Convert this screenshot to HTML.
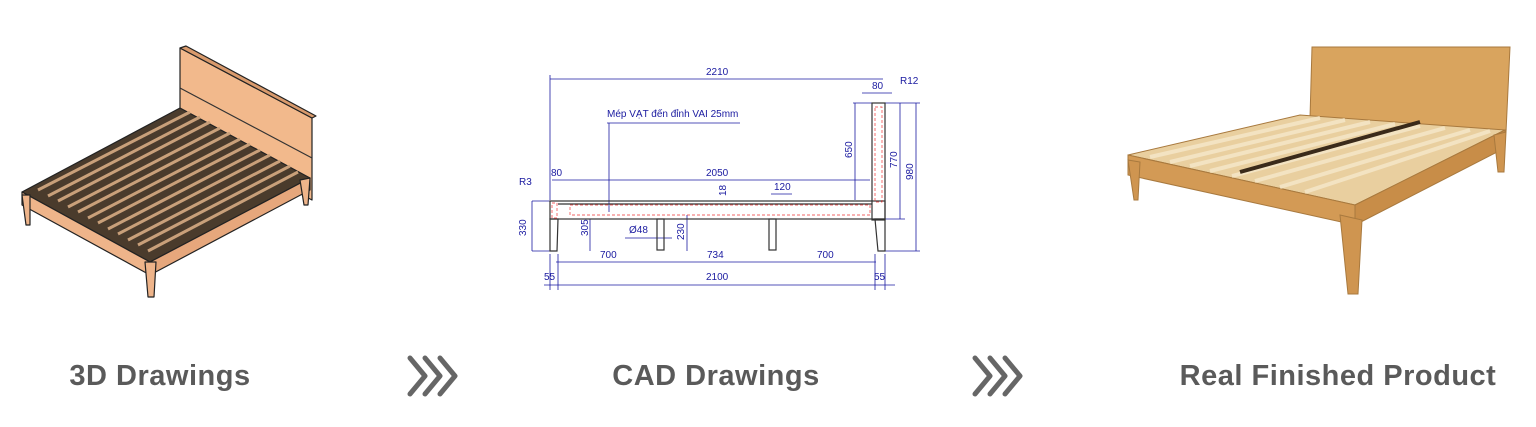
<!DOCTYPE html>
<html><head><meta charset="utf-8"><style>
html,body{margin:0;padding:0;background:#fff;}
body{width:1536px;height:427px;position:relative;overflow:hidden;font-family:"Liberation Sans",sans-serif;}
.lbl{position:absolute;top:360px;font-size:29px;font-weight:bold;color:#5a5a5a;white-space:nowrap;transform:translateX(-50%);letter-spacing:0.5px}
svg{position:absolute;left:0;top:0}
</style></head><body>
<svg width="1536" height="427" viewBox="0 0 1536 427">
<g stroke="#222" stroke-width="1.2" stroke-linejoin="round">
  <polygon points="180,48 312,118 312,200 180,130" fill="#f2b98c"/>
  <polygon points="180,48 186,46 316,116 312,118" fill="#d99a6c"/>
  <line x1="180" y1="88" x2="312" y2="158" stroke="#333"/>
  <polygon points="22,192 180,108 310,178 150,262" fill="#4a3b2c"/>
  <polygon points="22,192 150,262 150,275 22,205" fill="#eeb48a"/>
  <polygon points="150,262 310,178 310,190 150,275" fill="#e6a77c"/>
  <polygon points="22,195 30,195 30,225 26,225" fill="#eeb48a"/>
  <polygon points="145,262 156,262 154,297 148,297" fill="#eeb48a"/>
  <polygon points="300,180 310,178 308,205 304,205" fill="#eeb48a"/>
</g>
<g stroke="#c9a07a" stroke-width="3">
  <line x1="38" y1="190" x2="190" y2="112"/><line x1="48" y1="196" x2="200" y2="117"/>
  <line x1="58" y1="201" x2="210" y2="122"/><line x1="68" y1="207" x2="220" y2="128"/>
  <line x1="78" y1="212" x2="230" y2="133"/><line x1="88" y1="218" x2="240" y2="139"/>
  <line x1="98" y1="223" x2="250" y2="144"/><line x1="108" y1="229" x2="260" y2="150"/>
  <line x1="118" y1="234" x2="270" y2="155"/><line x1="128" y1="240" x2="280" y2="161"/>
  <line x1="138" y1="245" x2="290" y2="166"/><line x1="148" y1="251" x2="298" y2="172"/>
</g>
<g stroke="#1a1aa0" stroke-width="0.8" fill="none">
  <line x1="550" y1="79" x2="883" y2="79"/><line x1="550" y1="75" x2="550" y2="200"/>
  <line x1="552" y1="180" x2="870" y2="180"/><line x1="607" y1="123" x2="740" y2="123"/><line x1="609" y1="123" x2="609" y2="212"/>
  <line x1="532" y1="201" x2="550" y2="201"/><line x1="532" y1="251" x2="550" y2="251"/><line x1="532" y1="201" x2="532" y2="251"/>
  <line x1="590" y1="219" x2="590" y2="251"/>
  <line x1="687" y1="215" x2="687" y2="251"/>
  <line x1="556" y1="262" x2="876" y2="262"/>
  <line x1="544" y1="285" x2="895" y2="285"/>
  <line x1="855" y1="103" x2="855" y2="200"/><line x1="900" y1="103" x2="900" y2="219"/><line x1="916" y1="103" x2="916" y2="251"/>
  <line x1="853" y1="103" x2="920" y2="103"/><line x1="885" y1="219" x2="905" y2="219"/><line x1="885" y1="251" x2="920" y2="251"/>
  <line x1="862" y1="93" x2="892" y2="93"/>
  <line x1="771" y1="194" x2="792" y2="194"/><line x1="625" y1="238" x2="672" y2="238"/>
  <line x1="550" y1="254" x2="550" y2="290"/><line x1="558" y1="254" x2="558" y2="290"/><line x1="875" y1="254" x2="875" y2="290"/><line x1="885" y1="254" x2="885" y2="290"/>
</g>
<g stroke="#333" stroke-width="1.2" fill="none">
  <rect x="872" y="103" width="13" height="117"/>
  <rect x="550" y="201" width="335" height="18"/>
  <line x1="558" y1="204" x2="872" y2="204"/>
  <polygon points="550,219 558,219 557,251 550,251"/>
  <polygon points="875,219 885,219 885,251 878,251"/>
  <rect x="657" y="219" width="7" height="31"/><rect x="769" y="219" width="7" height="31"/>
</g>
<g stroke="#e33" stroke-width="0.7" fill="none" stroke-dasharray="3,2">
  <rect x="875" y="107" width="7" height="95"/><rect x="570" y="205" width="300" height="10"/><rect x="552" y="203" width="5" height="15"/>
</g>
<g font-family="Liberation Sans,sans-serif" font-size="10" fill="#1a1aa0">
  <text x="706" y="75">2210</text><text x="872" y="89">80</text><text x="900" y="84">R12</text>
  <text x="607" y="117">Mép VẠT đến đỉnh VAI 25mm</text>
  <text x="551" y="176">80</text><text x="706" y="176">2050</text><text x="774" y="190">120</text><text x="519" y="185">R3</text>
  <text x="629" y="233">Ø48</text><text x="600" y="258">700</text><text x="707" y="258">734</text><text x="817" y="258">700</text>
  <text x="544" y="280">55</text><text x="706" y="280">2100</text><text x="874" y="280">55</text>
  <text transform="translate(526,236) rotate(-90)">330</text><text transform="translate(588,236) rotate(-90)">305</text>
  <text transform="translate(684,240) rotate(-90)">230</text><text transform="translate(726,196) rotate(-90)">18</text>
  <text transform="translate(852,158) rotate(-90)">650</text><text transform="translate(897,168) rotate(-90)">770</text><text transform="translate(913,180) rotate(-90)">980</text>
</g>
<g stroke="#a8793e" stroke-width="1">
  <polygon points="1312,47 1510,47 1506,132 1310,118" fill="#d9a45e"/>
  <polygon points="1128,155 1300,115 1505,130 1355,205" fill="#e9cf9f"/>
  <polygon points="1128,155 1355,205 1355,225 1128,175" fill="#d39a55"/>
  <polygon points="1355,205 1505,130 1505,148 1355,225" fill="#c88d48"/>
  <polygon points="1128,160 1140,162 1138,200 1134,200" fill="#cf9550"/>
  <polygon points="1340,215 1362,220 1358,294 1348,294" fill="#cf9550"/>
  <polygon points="1494,135 1506,132 1504,172 1498,172" fill="#cf9550"/>
</g>
<g stroke="#f3e3c2" stroke-width="4">
  <line x1="1150" y1="157" x2="1320" y2="118"/><line x1="1170" y1="162" x2="1345" y2="120"/>
  <line x1="1190" y1="166" x2="1370" y2="122"/><line x1="1210" y1="171" x2="1395" y2="124"/>
  <line x1="1232" y1="176" x2="1420" y2="126"/><line x1="1255" y1="181" x2="1445" y2="128"/>
  <line x1="1280" y1="187" x2="1470" y2="130"/><line x1="1305" y1="192" x2="1490" y2="131"/>
</g>
<line x1="1240" y1="172" x2="1420" y2="122" stroke="#3a2a1a" stroke-width="4"/>
<g stroke="#666" stroke-width="5" fill="none" stroke-linecap="round" stroke-linejoin="round">
  <polyline points="410,358 425,376 410,394"/><polyline points="425,358 440,376 425,394"/><polyline points="440,358 455,376 440,394"/>
  <polyline points="975,358 990,376 975,394"/><polyline points="990,358 1005,376 990,394"/><polyline points="1005,358 1020,376 1005,394"/>
</g>
</svg>
<div class="lbl" style="left:160px">3D Drawings</div>
<div class="lbl" style="left:716px">CAD Drawings</div>
<div class="lbl" style="left:1338px">Real Finished Product</div>
</body></html>
